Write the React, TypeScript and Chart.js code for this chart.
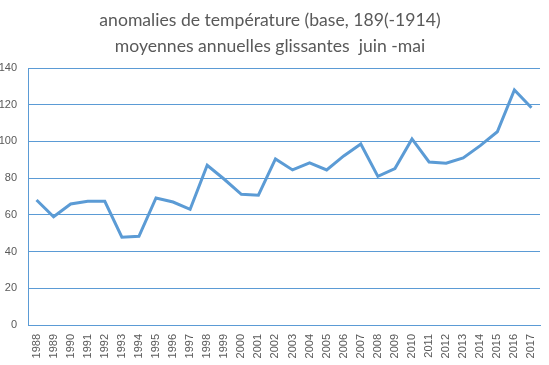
import React, { useEffect, useRef } from "react";
import { Chart, registerables } from "chart.js";

Chart.register(...registerables);

const years: string[] = [
  "1988", "1989", "1990", "1991", "1992", "1993", "1994", "1995", "1996", "1997",
  "1998", "1999", "2000", "2001", "2002", "2003", "2004", "2005", "2006", "2007",
  "2008", "2009", "2010", "2011", "2012", "2013", "2014", "2015", "2016", "2017",
];

const anomalies: number[] = [
  68.1, 59.0, 65.9, 67.4, 67.4, 47.8, 48.3, 69.2, 67.0, 63.0,
  87.0, 79.4, 71.2, 70.7, 90.5, 84.5, 88.3, 84.5, 92.1, 98.6,
  81.0, 85.2, 101.4, 88.8, 88.1, 91.0, 97.7, 105.3, 128.1, 118.4,
];

const titleLines: string[] = [
  "anomalies de température (base, 189(-1914)",
  "moyennes annuelles glissantes  juin -mai",
];

const yMin = 0;
const yMax = 140;
const yStep = 20;

export default function App() {
  const canvasRef = useRef<HTMLCanvasElement | null>(null);

  useEffect(() => {
    if (!canvasRef.current) return;
    const blue = "#5B9BD5";
    const chart = new Chart(canvasRef.current, {
      type: "line",
      data: {
        labels: years,
        datasets: [
          {
            data: anomalies,
            borderColor: blue,
            borderWidth: 3,
            pointRadius: 0,
            tension: 0,
            fill: false,
          },
        ],
      },
      options: {
        animation: false,
        responsive: false,
        maintainAspectRatio: false,
        layout: { padding: { left: 0, right: 9, top: 0, bottom: 0 } },
        plugins: {
          legend: { display: false },
          tooltip: { enabled: false },
          title: {
            display: true,
            text: titleLines,
            color: "#595959",
            font: { family: "Lato", size: 17.6, weight: "normal", lineHeight: 1.45 },
            padding: { top: 8, bottom: 9 },
          },
        },
        scales: {
          x: {
            offset: true,
            grid: { display: false, drawTicks: false },
            border: { display: true, color: blue, width: 1 },
            ticks: {
              color: "#595959",
              font: { family: "Liberation Sans", size: 11 },
              minRotation: 90,
              maxRotation: 90,
              autoSkip: false,
              padding: 9,
            },
            afterFit: (s: any) => {
              s.height = 40;
              s.paddingLeft = 0;
              s.paddingRight = 0;
            },
          },
          y: {
            min: yMin,
            max: yMax,
            grid: { color: blue, lineWidth: 1, drawTicks: false },
            border: { display: true, color: blue, width: 1 },
            ticks: {
              stepSize: yStep,
              color: "#595959",
              font: { family: "Liberation Sans", size: 11 },
              padding: 11,
            },
            afterFit: (s: any) => {
              s.width = 28;
            },
          },
        },
      },
    });
    return () => chart.destroy();
  }, []);

  return (
    <div style={{ position: "fixed", left: 0, top: 0, width: 549, height: 365, background: "#fff" }}>
      <canvas ref={canvasRef} width={549} height={365} />
    </div>
  );
}
